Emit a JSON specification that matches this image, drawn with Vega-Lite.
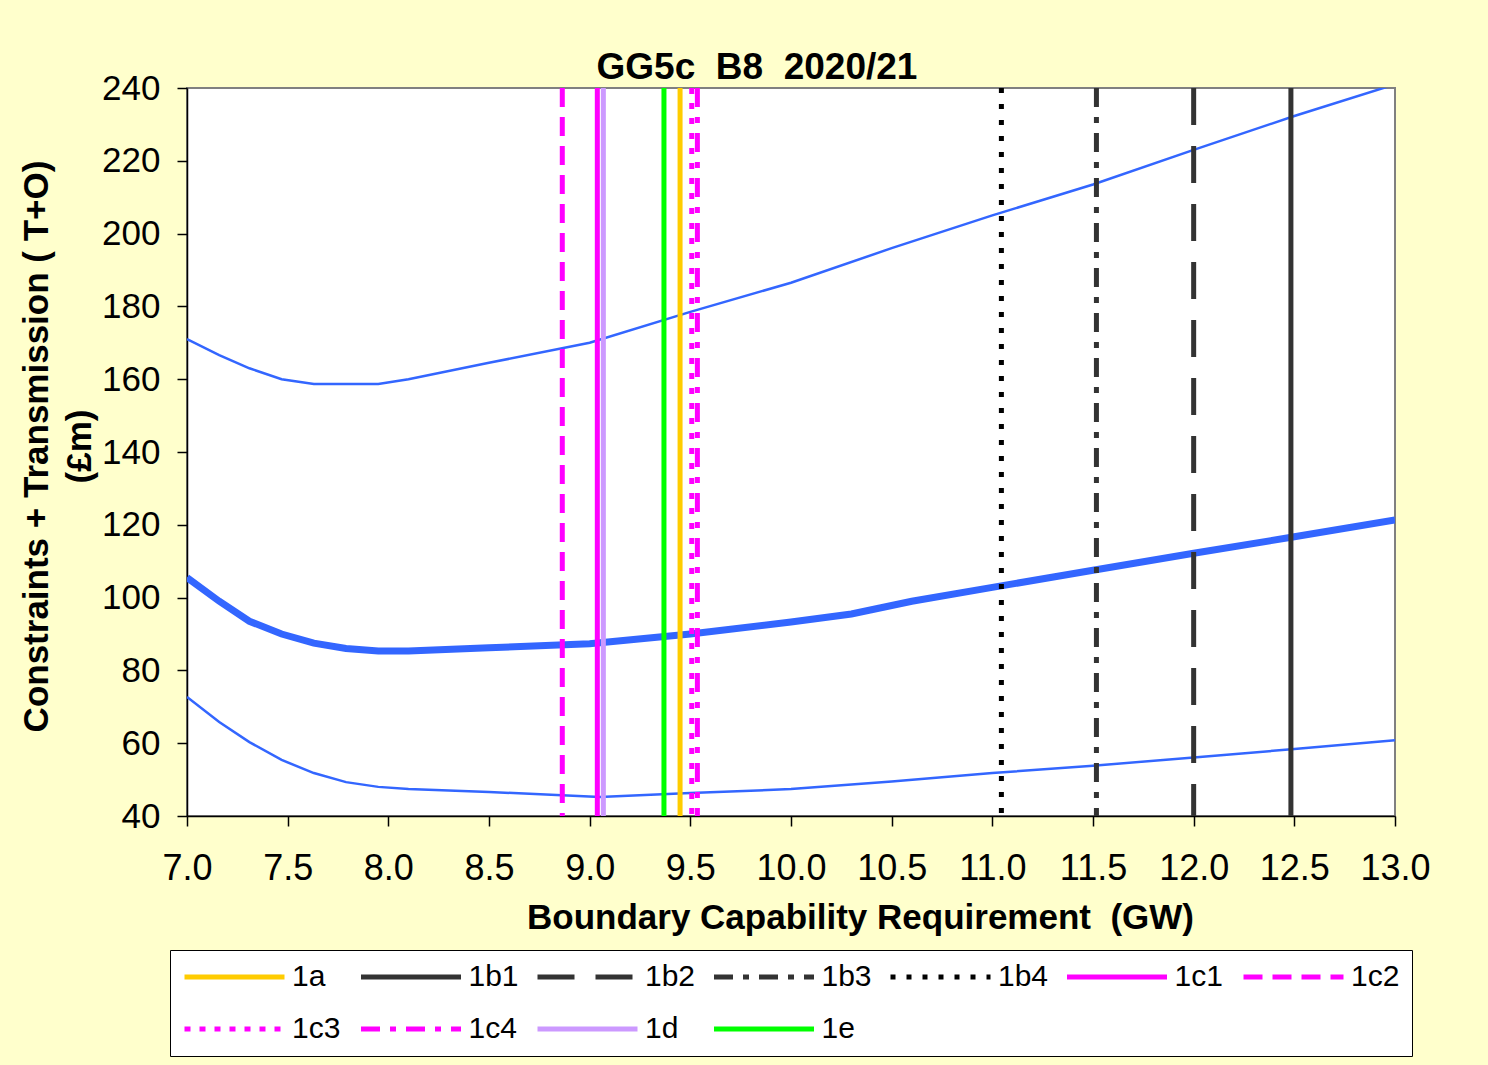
{
  "$schema": "https://vega.github.io/schema/vega-lite/v6.json",
  "width": 1208,
  "height": 728,
  "autosize": {"type": "none"},
  "padding": {"left": 187, "top": 88, "right": 93, "bottom": 249},
  "background": "#FFFFCC",
  "title": {
    "text": "GG5c\u00a0\u00a0B8\u00a0\u00a02020/21",
    "font": "Liberation Sans",
    "fontSize": 37,
    "fontWeight": "bold",
    "color": "#000000",
    "anchor": "middle",
    "frame": "group",
    "baseline": "alphabetic",
    "offset": 8,
    "dx": -34,
    "dy": 53
  },
  "config": {
    "view": {"fill": "#FFFFFF", "stroke": "#808080", "strokeWidth": 2},
    "axis": {
      "labelFont": "Liberation Sans",
      "titleFont": "Liberation Sans",
      "labelColor": "#000000",
      "titleColor": "#000000",
      "domainColor": "#000000",
      "tickColor": "#000000",
      "domainWidth": 1.5,
      "tickWidth": 1.5,
      "tickSize": 10,
      "grid": false
    }
  },
  "datasets": {
    "curves": [
      {"curve": "upper", "x": 7.0, "y": 171.0},
      {"curve": "upper", "x": 7.16, "y": 166.6},
      {"curve": "upper", "x": 7.31, "y": 163.0},
      {"curve": "upper", "x": 7.47, "y": 160.0},
      {"curve": "upper", "x": 7.63, "y": 158.7},
      {"curve": "upper", "x": 7.79, "y": 158.7},
      {"curve": "upper", "x": 7.95, "y": 158.7},
      {"curve": "upper", "x": 8.1, "y": 160.0},
      {"curve": "upper", "x": 8.5, "y": 164.5},
      {"curve": "upper", "x": 9.0, "y": 170.0},
      {"curve": "upper", "x": 9.5, "y": 178.5},
      {"curve": "upper", "x": 10.0, "y": 186.5},
      {"curve": "upper", "x": 10.5, "y": 196.0},
      {"curve": "upper", "x": 11.0, "y": 205.0},
      {"curve": "upper", "x": 11.5, "y": 213.5},
      {"curve": "upper", "x": 12.0, "y": 223.0},
      {"curve": "upper", "x": 12.5, "y": 232.3},
      {"curve": "upper", "x": 13.0, "y": 241.0},
      {"curve": "mid", "x": 7.0, "y": 105.5},
      {"curve": "mid", "x": 7.16, "y": 99.0},
      {"curve": "mid", "x": 7.31, "y": 93.5},
      {"curve": "mid", "x": 7.47, "y": 90.0},
      {"curve": "mid", "x": 7.63, "y": 87.5},
      {"curve": "mid", "x": 7.79, "y": 86.0},
      {"curve": "mid", "x": 7.95, "y": 85.3},
      {"curve": "mid", "x": 8.1, "y": 85.3},
      {"curve": "mid", "x": 8.5, "y": 86.2},
      {"curve": "mid", "x": 9.0, "y": 87.3},
      {"curve": "mid", "x": 9.5, "y": 90.0},
      {"curve": "mid", "x": 10.0, "y": 93.3},
      {"curve": "mid", "x": 10.3, "y": 95.5},
      {"curve": "mid", "x": 10.6, "y": 99.0},
      {"curve": "mid", "x": 11.0, "y": 102.8},
      {"curve": "mid", "x": 11.5, "y": 107.5},
      {"curve": "mid", "x": 12.0, "y": 112.2},
      {"curve": "mid", "x": 12.5, "y": 116.7},
      {"curve": "mid", "x": 13.0, "y": 121.3},
      {"curve": "lower", "x": 7.0, "y": 72.7},
      {"curve": "lower", "x": 7.16, "y": 65.8},
      {"curve": "lower", "x": 7.31, "y": 60.3},
      {"curve": "lower", "x": 7.47, "y": 55.4},
      {"curve": "lower", "x": 7.63, "y": 51.8},
      {"curve": "lower", "x": 7.79, "y": 49.3},
      {"curve": "lower", "x": 7.95, "y": 48.0},
      {"curve": "lower", "x": 8.1, "y": 47.4},
      {"curve": "lower", "x": 8.5, "y": 46.6},
      {"curve": "lower", "x": 9.05, "y": 45.2},
      {"curve": "lower", "x": 9.5, "y": 46.3},
      {"curve": "lower", "x": 10.0, "y": 47.4},
      {"curve": "lower", "x": 10.5, "y": 49.5},
      {"curve": "lower", "x": 11.0, "y": 51.8},
      {"curve": "lower", "x": 11.5, "y": 53.8},
      {"curve": "lower", "x": 12.0, "y": 56.1},
      {"curve": "lower", "x": 12.5, "y": 58.4},
      {"curve": "lower", "x": 13.0, "y": 60.8}
    ],
    "options": [
      {"series": "1a", "x": 9.449},
      {"series": "1b1", "x": 12.483},
      {"series": "1b2", "x": 12.0},
      {"series": "1b3", "x": 11.517},
      {"series": "1b4", "x": 11.045},
      {"series": "1c1", "x": 9.038},
      {"series": "1c2", "x": 8.864},
      {"series": "1c3", "x": 9.507},
      {"series": "1c4", "x": 9.535},
      {"series": "1d", "x": 9.068},
      {"series": "1e", "x": 9.369}
    ]
  },
  "encoding": {
    "x": {
      "field": "x",
      "type": "quantitative",
      "scale": {"domain": [7, 13], "nice": false, "zero": false},
      "axis": {
        "values": [7, 7.5, 8, 8.5, 9, 9.5, 10, 10.5, 11, 11.5, 12, 12.5, 13],
        "format": ".1f",
        "labelFontSize": 36,
        "labelPadding": 25,
        "labelFlush": false,
        "labelOverlap": false,
        "title": "Boundary Capability Requirement\u00a0\u00a0(GW)",
        "titleFontSize": 35,
        "titleFontWeight": "bold",
        "titleX": 673,
        "titleY": 112,
        "titleAnchor": null,
        "titleBaseline": "alphabetic"
      }
    }
  },
  "layer": [
    {
      "data": {"name": "curves"},
      "transform": [{"filter": "datum.curve !== 'mid'"}],
      "mark": {"type": "line", "color": "#3366FF", "strokeWidth": 2.5, "clip": true},
      "encoding": {
        "y": {
          "field": "y",
          "type": "quantitative",
          "scale": {"domain": [40, 240], "nice": false, "zero": false},
          "axis": {
            "values": [40, 60, 80, 100, 120, 140, 160, 180, 200, 220, 240],
            "labelFontSize": 35,
            "labelPadding": 17,
            "title": ["Constraints + Transmission ( T+O)", "(£m)"],
            "titleFontSize": 35,
            "titleFontWeight": "bold",
            "titleLineHeight": 43,
            "titlePadding": 4,
            "titleY": 358
          }
        },
        "detail": {"field": "curve", "type": "nominal"}
      }
    },
    {
      "data": {"name": "curves"},
      "transform": [{"filter": "datum.curve === 'mid'"}],
      "mark": {"type": "line", "color": "#3366FF", "strokeWidth": 7, "clip": true},
      "encoding": {
        "y": {"field": "y", "type": "quantitative"}
      }
    },
    {
      "data": {"name": "options"},
      "mark": {"type": "rule"},
      "encoding": {
        "color": {
          "field": "series",
          "type": "nominal",
          "scale": {
            "domain": ["1a", "1b1", "1b2", "1b3", "1b4", "1c1", "1c2", "1c3", "1c4", "1d", "1e"],
            "range": ["#FFCC00", "#333333", "#333333", "#333333", "#000000", "#FF00FF", "#FF00FF", "#FF00FF", "#FF00FF", "#CC99FF", "#00FF00"]
          },
          "legend": {
            "title": null,
            "orient": "none",
            "legendX": -17,
            "legendY": 862,
            "direction": "horizontal",
            "columns": 7,
            "gridAlign": "all",
            "symbolType": "stroke",
            "symbolSize": 10000,
            "clipHeight": 30,
            "labelFont": "Liberation Sans",
            "labelFontSize": 30,
            "labelColor": "#000000",
            "labelOffset": 5,
            "columnPadding": 15.5,
            "rowPadding": 22,
            "padding": 12,
            "fillColor": "#FFFFFF",
            "strokeColor": "#000000",
            "symbolLimit": 0
          }
        },
        "strokeDash": {
          "field": "series",
          "type": "nominal",
          "scale": {
            "domain": ["1a", "1b1", "1b2", "1b3", "1b4", "1c1", "1c2", "1c3", "1c4", "1d", "1e"],
            "range": [[1, 0], [1, 0], [37, 21], [19, 10, 6, 10], [5, 11], [1, 0], [19, 10], [6, 9], [19, 10, 6, 10], [1, 0], [1, 0]]
          }
        },
        "strokeWidth": {
          "field": "series",
          "type": "nominal",
          "scale": {
            "domain": ["1a", "1b1", "1b2", "1b3", "1b4", "1c1", "1c2", "1c3", "1c4", "1d", "1e"],
            "range": [5, 5, 6, 3, 3, 5, 3, 3, 3, 6, 5]
          }
        }
      }
    }
  ]
}
